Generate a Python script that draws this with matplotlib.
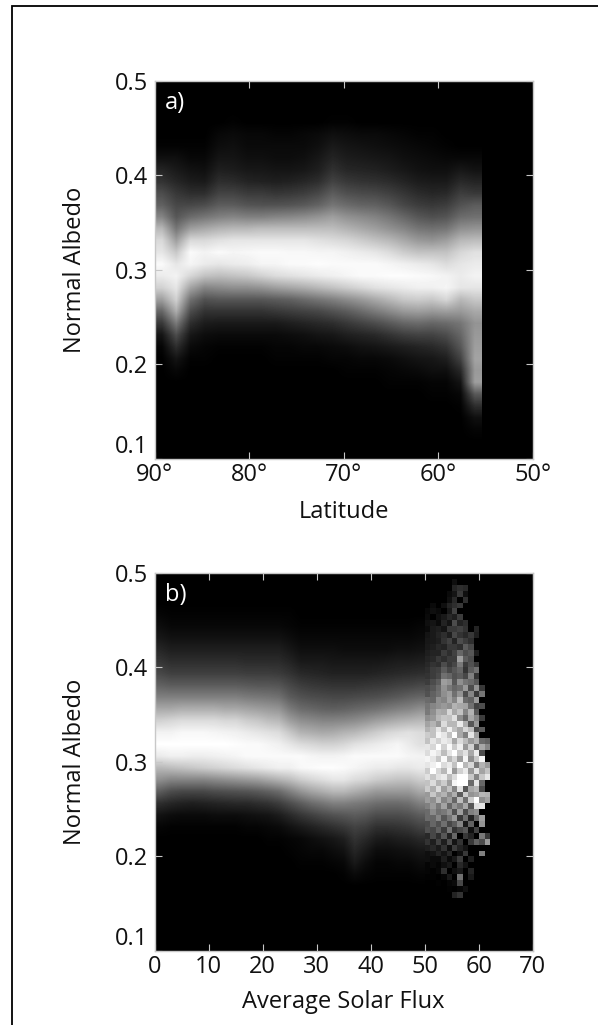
import matplotlib
matplotlib.use('Agg')
import matplotlib.pyplot as plt
from matplotlib.lines import Line2D
import numpy as np

plt.rcParams['font.family'] = ['Open Sans', 'DejaVu Sans']

# grey levels (0-100), rows run from albedo 0.5 down to 0.1
# panel a: 23 columns, 1.5 deg wide, from 90 to 55.5 deg
lat_grey = [
    [0]*23,
    [0]*23,
    [0]*23,
    [0,0,0,0,0,1,0,0,0,0,0,0,1,1,0,0,0,0,0,0,0,0,0],
    [0,0,0,0,3,4,3,3,2,2,3,4,6,5,4,4,3,2,1,1,0,0,0],
    [1,1,1,1,5,6,4,4,4,4,4,6,10,8,7,6,5,4,3,2,1,0,0],
    [6,6,3,3,8,8,6,6,5,5,6,9,14,11,10,9,8,6,5,4,3,3,3],
    [14,10,7,6,12,11,9,9,8,8,9,12,19,15,14,13,11,9,7,6,6,9,7],
    [20,15,11,10,18,17,14,13,12,13,15,18,26,22,20,19,17,14,11,10,10,16,14],
    [30,22,18,18,26,26,23,23,21,22,24,28,36,31,29,28,25,21,17,15,16,24,22],
    [38,28,28,30,36,36,33,32,32,33,35,39,46,42,39,38,34,28,24,22,24,32,36],
    [52,34,42,46,50,52,50,50,52,53,55,58,62,57,54,51,46,40,34,31,33,42,44],
    [72,46,62,66,70,72,72,74,74,74,74,74,74,70,66,62,57,52,46,44,46,56,58],
    [85,62,85,85,88,90,90,90,90,90,90,88,86,84,80,76,72,66,60,58,62,72,74],
    [90,78,98,95,98,96,97,98,98,97,97,96,96,94,92,90,86,80,76,76,76,84,88],
    [98,90,96,92,90,92,93,96,96,98,98,99,98,98,98,98,96,94,92,90,86,90,92],
    [92,95,84,76,74,76,78,82,86,88,90,92,94,96,98,98,99,99,98,97,95,92,95],
    [82,90,64,52,54,56,56,58,62,65,68,72,76,80,84,88,90,92,94,94,96,90,90],
    [62,82,44,32,34,34,34,34,36,38,42,46,50,55,60,66,72,78,80,78,84,72,78],
    [40,68,30,20,20,20,20,20,22,24,26,28,32,36,42,48,54,60,62,60,62,60,66],
    [22,48,18,11,10,10,10,10,10,12,14,16,18,22,26,30,35,40,42,40,42,46,58],
    [8,30,9,5,4,4,4,4,4,5,6,8,9,12,14,16,20,24,26,26,30,40,60],
    [2,18,4,2,1,1,1,1,2,2,3,3,4,5,7,8,10,12,14,16,20,34,62],
    [0,8,1,1,0,0,0,0,1,1,1,1,2,2,3,3,4,6,8,9,12,26,64],
    [0,3,0,0,0,0,0,0,0,0,0,0,0,1,1,1,2,3,4,6,6,16,60],
    [0,0,0,0,0,0,0,0,0,0,0,0,0,0,0,0,1,1,1,2,2,8,62],
    [0,0,0,0,0,0,0,0,0,0,0,0,0,0,0,0,0,0,0,1,1,3,35],
    [0,0,0,0,0,0,0,0,0,0,0,0,0,0,0,0,0,0,0,0,0,1,18],
    [0,0,0,0,0,0,0,0,0,0,0,0,0,0,0,0,0,0,0,0,0,0,6],
    [0,0,0,0,0,0,0,0,0,0,0,0,0,0,0,0,0,0,0,0,0,0,2],
    [0]*23,
    [0]*23,
]

# panel b smooth part: 25 columns, 2 units wide, from 0 to 50
flux_grey = [
    [0]*25,
    [0]*25,
    [0]*25,
    [2,1,1,1,1,1,1,1,1,1,1,1,1,0,0,0,0,0,0,0,0,0,0,0,0],
    [5,3,3,3,3,3,3,3,3,3,3,3,2,1,1,1,1,1,1,1,1,1,1,1,2],
    [9,7,7,7,7,7,7,7,7,7,7,7,5,3,3,3,3,3,3,3,3,3,3,3,4],
    [15,12,12,12,12,12,12,12,12,12,12,12,9,6,6,6,6,5,5,5,5,5,6,6,7],
    [21,18,18,18,18,18,18,18,17,17,17,17,14,10,10,10,9,9,9,9,9,10,11,11,12],
    [28,25,25,25,25,25,25,25,24,24,24,23,20,16,15,14,13,13,13,13,14,15,16,17,18],
    [38,36,36,36,36,36,36,36,35,34,34,33,28,24,22,21,20,20,20,21,22,23,25,26,28],
    [50,50,50,50,50,50,50,50,48,47,46,44,36,32,30,29,28,28,29,30,31,33,35,38,40],
    [66,66,68,68,68,68,66,66,64,62,60,58,48,42,40,38,37,38,40,42,44,47,50,52,56],
    [82,84,86,86,86,86,84,84,80,78,74,72,62,56,54,52,52,53,55,58,62,65,68,70,72],
    [95,95,97,97,97,96,95,94,92,90,88,86,78,70,68,66,67,70,72,76,80,84,86,88,86],
    [100,100,100,100,100,100,100,99,98,98,96,94,90,86,84,82,82,84,88,90,92,94,96,92,88],
    [92,94,94,93,93,94,95,96,98,98,98,98,98,98,96,95,95,96,98,98,98,98,98,96,95],
    [72,74,76,78,80,82,84,86,88,90,92,94,94,97,98,99,99,98,96,94,92,92,90,90,92],
    [56,52,52,52,52,54,56,58,60,62,66,70,74,80,84,87,90,90,86,84,80,78,76,76,80],
    [36,30,28,28,28,30,31,32,33,35,38,42,50,58,64,68,72,72,68,64,60,60,60,60,66],
    [18,15,13,12,13,14,15,16,16,18,20,24,30,36,42,46,50,50,48,46,43,42,42,44,50],
    [7,5,4,4,4,5,5,5,6,7,8,11,16,21,25,29,32,34,36,34,30,30,30,32,36],
    [2,1,1,1,1,1,1,1,2,2,3,4,7,10,13,16,19,22,26,24,19,19,20,22,26],
    [0,0,0,0,0,0,0,0,0,0,1,1,2,3,5,7,9,12,20,16,11,10,12,13,16],
    [0,0,0,0,0,0,0,0,0,0,0,0,1,2,3,3,5,7,15,10,5,5,6,7,9],
    [0,0,0,0,0,0,0,0,0,0,0,0,0,1,1,1,2,3,10,5,2,2,3,3,5],
    [0,0,0,0,0,0,0,0,0,0,0,0,0,0,0,0,0,1,4,2,1,1,1,1,2],
    [0]*25,
    [0]*25,
    [0]*25,
    [0]*25,
    [0]*25,
    [0]*25,
]

# panel b scattered part: 12 columns, 1 unit wide from 50 to 62, 64 rows
flux_grey_edge = [
    [0]*12,
    [0,0,0,0,0,6,0,0,0,0,0,0],
    [0,0,0,0,0,14,18,16,0,0,0,0],
    [0,0,0,0,4,8,22,6,0,0,0,0],
    [0,0,0,0,6,16,0,18,0,0,0,0],
    [0,4,0,6,14,18,22,0,0,0,0,0],
    [3,6,4,0,10,26,0,0,0,0,0,0],
    [4,0,6,10,16,12,24,0,0,0,0,0],
    [6,8,4,14,8,30,14,18,0,0,0,0],
    [4,10,12,8,22,22,26,20,0,14,0,0],
    [8,10,14,18,12,28,20,16,22,12,0,0],
    [9,10,12,20,26,14,30,24,18,0,0,0],
    [10,12,16,14,22,22,18,36,28,0,0,0],
    [12,14,14,24,18,26,40,30,34,12,0,0],
    [14,16,22,18,24,24,62,36,30,0,0,0],
    [16,20,18,30,22,28,48,24,32,22,0,0],
    [18,24,26,36,28,34,40,20,36,44,0,0],
    [20,24,28,44,40,32,36,28,50,20,0,0],
    [24,30,36,62,58,34,56,46,42,34,0,0],
    [30,34,42,58,48,40,44,60,30,58,22,0],
    [32,38,44,56,62,44,58,30,52,22,46,0],
    [42,40,56,52,64,52,74,42,38,60,0,0],
    [46,52,56,60,56,70,66,64,44,26,30,0],
    [48,56,68,66,84,66,76,52,70,34,0,0],
    [56,60,72,78,76,88,56,40,66,52,24,0],
    [64,70,60,86,72,72,92,68,34,60,0,0],
    [70,76,90,74,94,76,66,84,74,28,36,0],
    [80,76,96,90,76,100,66,50,90,62,0,0],
    [76,90,82,92,88,66,86,74,60,70,42,38],
    [90,84,100,82,98,80,94,60,82,40,66,52],
    [86,96,90,74,90,100,78,88,66,92,30,0],
    [96,90,78,98,72,84,62,96,56,78,96,0],
    [90,94,100,86,92,76,100,72,84,48,70,60],
    [80,100,84,72,96,60,82,92,60,88,64,76],
    [88,78,88,92,74,86,100,100,78,52,78,90],
    [76,86,70,80,62,96,100,100,42,90,40,0],
    [80,68,86,62,76,52,88,34,66,72,30,0],
    [60,78,64,70,54,68,36,80,58,62,72,70],
    [62,56,72,52,62,40,74,44,80,100,56,64],
    [50,60,48,64,40,58,48,66,34,88,90,0],
    [42,54,44,48,56,32,62,30,50,56,0,0],
    [42,40,52,34,46,60,22,44,14,40,62,0],
    [30,40,32,44,28,36,52,10,38,0,58,0],
    [32,28,38,24,46,20,28,34,6,26,0,0],
    [16,28,18,34,14,40,0,22,14,0,48,22],
    [20,12,26,12,30,8,20,0,22,38,30,60],
    [12,16,10,20,6,24,14,8,0,0,0,0],
    [6,8,14,8,16,0,6,22,0,0,50,0],
    [6,4,4,12,4,10,24,0,12,0,0,0],
    [2,4,2,6,10,0,16,8,0,0,0,0],
    [2,1,3,18,0,6,10,0,14,0,0,0],
    [1,1,0,2,10,0,44,0,10,0,0,0],
    [0,0,1,0,2,4,28,0,0,0,0,0],
    [0,0,0,0,1,0,2,6,0,0,0,0],
    [0,0,0,0,0,14,20,0,0,0,0,0],
    [0]*12,
    [0]*12,
    [0]*12,
    [0]*12,
    [0]*12,
    [0]*12,
    [0]*12,
    [0]*12,
    [0]*12,
]

albedo_ticks = [0.1, 0.2, 0.3, 0.4, 0.5]
albedo_labels = ['0.1', '0.2', '0.3', '0.4', '0.5']
lat_ticks = [90, 80, 70, 60, 50]
lat_labels = ['90°', '80°', '70°', '60°', '50°']
flux_ticks = [0, 10, 20, 30, 40, 50, 60, 70]
flux_labels = ['0', '10', '20', '30', '40', '50', '60', '70']

W, H = 598, 1025
FS = 17
fig = plt.figure(figsize=(W/100, H/100), dpi=100)


def make_axes(top, bottom):
    ax = fig.add_axes([154.7/W, 1 - bottom/H, 378/W, (bottom - top)/H])
    ax.set_facecolor('black')
    ax.set_ylim(0.1, 0.5)
    ax.set_yticks(albedo_ticks)
    ax.set_yticklabels(albedo_labels)
    ax.tick_params(direction='in', top=True, right=True, length=5, width=0.8,
                   color='#c8c8c8', labelsize=FS, labelcolor='#111111')
    ax.tick_params(axis='y', pad=5)
    ax.tick_params(axis='x', pad=3)
    ax.get_yticklabels()[0].set_va('bottom')
    for s in ax.spines.values():
        s.set_color('#c8c8c8')
        s.set_linewidth(1)
    ax.set_ylabel('Normal Albedo', fontsize=FS, color='#111111')
    ax.yaxis.set_label_coords(-0.179, 0.5)
    return ax


ax1 = make_axes(80.7, 458.7)
ax1.imshow(lat_grey, cmap='gray', vmin=0, vmax=100, aspect='auto',
           interpolation='bilinear', extent=(90, 55.5, 0.1, 0.5))
ax1.set_xlim(90, 50)
ax1.set_ylim(0.1, 0.5)
ax1.set_xticks(lat_ticks)
ax1.set_xticklabels(lat_labels)
ax1.set_xlabel('Latitude', fontsize=FS, color='#111111', va='center')
ax1.xaxis.set_label_coords(0.5, -0.14)
ax1.text(0.028, 0.941, 'a)', transform=ax1.transAxes, color='white', fontsize=FS,
         va='center')

ax2 = make_axes(572.7, 950.7)
ax2.imshow(flux_grey, cmap='gray', vmin=0, vmax=100, aspect='auto',
           interpolation='bilinear', extent=(0, 50, 0.1, 0.5))
ax2.imshow(flux_grey_edge, cmap='gray', vmin=0, vmax=100, aspect='auto',
           interpolation='nearest', extent=(50, 62, 0.1, 0.5))
ax2.set_xlim(0, 70)
ax2.set_ylim(0.1, 0.5)
ax2.set_xticks(flux_ticks)
ax2.set_xticklabels(flux_labels)
ax2.set_xlabel('Average Solar Flux', fontsize=FS, color='#111111', va='center')
ax2.xaxis.set_label_coords(0.5, -0.137)
ax2.text(0.028, 0.941, 'b)', transform=ax2.transAxes, color='white', fontsize=FS,
         va='center')

# black frame on the top and left of the page
fig.add_artist(Line2D([11.8/W, 11.8/W, 1], [0, 1 - 5.8/H, 1 - 5.8/H], color='black',
                      linewidth=1.3, solid_joinstyle='miter', transform=fig.transFigure))

fig.savefig('out.png', dpi=100)
